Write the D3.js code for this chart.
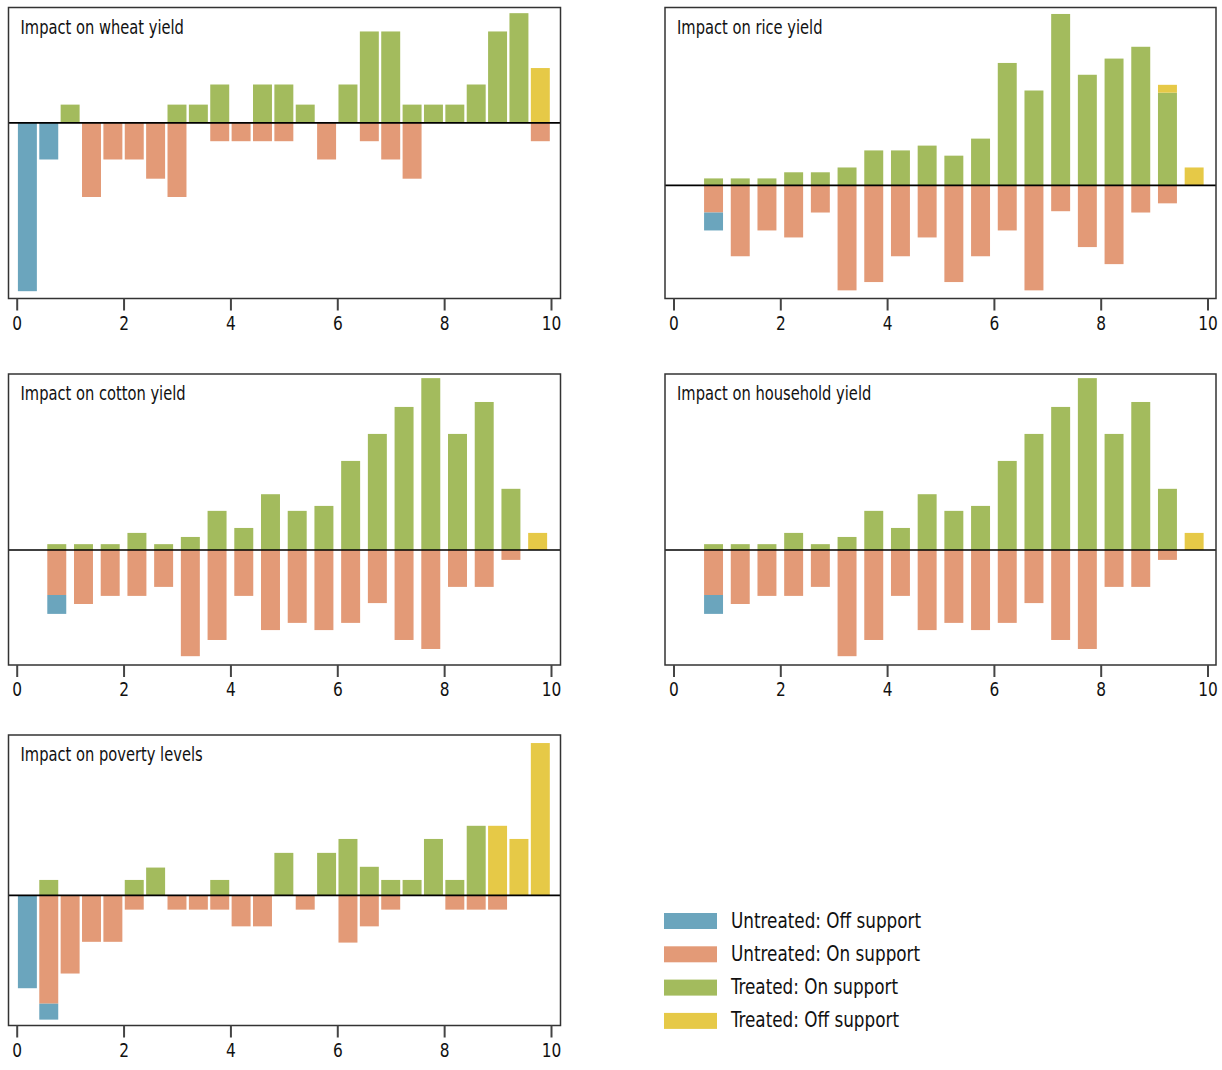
<!DOCTYPE html>
<html>
<head>
<meta charset="utf-8">
<script src="https://cdn.jsdelivr.net/npm/d3@7"></script>
<style>
  body { margin: 0; background: #fff; }
  text { font-family: "Liberation Sans Narrow", "DejaVu Sans Condensed", "Arial Narrow", sans-serif; fill: #111; }
</style>
</head>
<body>
<div id="chart"></div>
<script>
const width = 1222;
const height = 1070;

// bin centres (propensity score x 10)
const binsFine = [0.2, 0.6, 1.0, 1.4, 1.8, 2.2, 2.6, 3.0, 3.4, 3.8, 4.2, 4.6, 5.0, 5.4, 5.8, 6.2, 6.6, 7.0, 7.4, 7.8, 8.2, 8.6, 9.0, 9.4, 9.8];
const binsWide = [0.75, 1.25, 1.75, 2.25, 2.75, 3.25, 3.75, 4.25, 4.75, 5.25, 5.75, 6.25, 6.75, 7.25, 7.75, 8.25, 8.75, 9.25, 9.75];
const xTicks = [0, 2, 4, 6, 8, 10];

// wheat
const wheatTreatedOn = [0, 0, 1, 0, 0, 0, 0, 1, 1, 2.1, 0, 2.1, 2.1, 1, 0, 2.1, 5, 5, 1, 1, 1, 2.1, 5, 6, 0];
const wheatTreatedOff = [0, 0, 0, 0, 0, 0, 0, 0, 0, 0, 0, 0, 0, 0, 0, 0, 0, 0, 0, 0, 0, 0, 0, 0, 3];
const wheatUntreatedOn = [0, 0, 0, 4.05, 2, 2, 3.05, 4.05, 0, 1, 1, 1, 1, 0, 2, 0, 1, 2, 3.05, 0, 0, 0, 0, 0, 1];
const wheatUntreatedOff = [9.2, 2, 0, 0, 0, 0, 0, 0, 0, 0, 0, 0, 0, 0, 0, 0, 0, 0, 0, 0, 0, 0, 0, 0, 0];

// rice
const riceTreatedOn = [0.8, 0.8, 0.8, 1.5, 1.5, 2.05, 4.0, 4.0, 4.55, 3.4, 5.35, 14.0, 10.85, 19.6, 12.65, 14.5, 15.85, 10.6, 0];
const riceTreatedOff = [0, 0, 0, 0, 0, 0, 0, 0, 0, 0, 0, 0, 0, 0, 0, 0, 0, 0.9, 2.05];
const riceUntreatedOn = [3.1, 8.1, 5.15, 5.95, 3.1, 12.0, 11.05, 8.1, 5.95, 11.05, 8.1, 5.15, 12.0, 2.95, 7.05, 9.0, 3.1, 2.05, 0];
const riceUntreatedOff = [2.05, 0, 0, 0, 0, 0, 0, 0, 0, 0, 0, 0, 0, 0, 0, 0, 0, 0, 0];

// cotton
const cottonTreatedOn = [0.65, 0.65, 0.65, 1.9, 0.65, 1.45, 4.35, 2.45, 6.2, 4.35, 4.9, 9.9, 12.9, 15.9, 19.1, 12.9, 16.45, 6.8, 0];
const cottonTreatedOff = [0, 0, 0, 0, 0, 0, 0, 0, 0, 0, 0, 0, 0, 0, 0, 0, 0, 0, 1.9];
const cottonUntreatedOn = [5.0, 6.0, 5.1, 5.1, 4.1, 11.8, 10.0, 5.1, 8.9, 8.1, 8.9, 8.1, 5.9, 10.0, 11.0, 4.1, 4.1, 1.1, 0];
const cottonUntreatedOff = [2.1, 0, 0, 0, 0, 0, 0, 0, 0, 0, 0, 0, 0, 0, 0, 0, 0, 0, 0];

// household
const householdTreatedOn = [0.65, 0.65, 0.65, 1.9, 0.65, 1.45, 4.35, 2.45, 6.2, 4.35, 4.9, 9.9, 12.9, 15.9, 19.1, 12.9, 16.45, 6.8, 0];
const householdTreatedOff = [0, 0, 0, 0, 0, 0, 0, 0, 0, 0, 0, 0, 0, 0, 0, 0, 0, 0, 1.9];
const householdUntreatedOn = [5.0, 6.0, 5.1, 5.1, 4.1, 11.8, 10.0, 5.1, 8.9, 8.1, 8.9, 8.1, 5.9, 10.0, 11.0, 4.1, 4.1, 1.1, 0];
const householdUntreatedOff = [2.1, 0, 0, 0, 0, 0, 0, 0, 0, 0, 0, 0, 0, 0, 0, 0, 0, 0, 0];

// poverty
const povertyTreatedOn = [0, 1.0, 0, 0, 0, 1.0, 1.8, 0, 0, 1.0, 0, 0, 2.75, 0, 2.75, 3.65, 1.85, 1.0, 1.0, 3.65, 1.0, 4.5, 0, 0, 0];
const povertyTreatedOff = [0, 0, 0, 0, 0, 0, 0, 0, 0, 0, 0, 0, 0, 0, 0, 0, 0, 0, 0, 0, 0, 0, 4.5, 3.65, 9.85];
const povertyUntreatedOn = [0, 7.0, 5.05, 3.0, 3.0, 0.92, 0, 0.92, 0.92, 0.92, 2.0, 2.0, 0, 0.92, 0, 3.05, 2.0, 0.92, 0, 0, 0.92, 0.92, 0.92, 0, 0];
const povertyUntreatedOff = [6.0, 1.03, 0, 0, 0, 0, 0, 0, 0, 0, 0, 0, 0, 0, 0, 0, 0, 0, 0, 0, 0, 0, 0, 0, 0];

// y extents of each frame
const wheatYDomain = [-9.6, 6.31];
const riceYDomain = [-12.93, 20.34];
const cottonYDomain = [-12.78, 19.56];
const householdYDomain = [-12.78, 19.56];
const povertyYDomain = [-8.41, 10.37];

const legendLabels = ['Untreated: Off support', 'Untreated: On support', 'Treated: On support', 'Treated: Off support'];
const colors = {
    untreatedOff: '#6ba5bd',
    untreatedOn: '#e39a77',
    treatedOn: '#a3bb5d',
    treatedOff: '#e6c947'
};
const legendColors = [colors.untreatedOff, colors.untreatedOn, colors.treatedOn, colors.treatedOff];

const panels = [
    { title: 'Impact on wheat yield', bins: binsFine, tOn: wheatTreatedOn, tOff: wheatTreatedOff, uOn: wheatUntreatedOn, uOff: wheatUntreatedOff, yDomain: wheatYDomain, col: 0, row: 0 },
    { title: 'Impact on rice yield', bins: binsWide, tOn: riceTreatedOn, tOff: riceTreatedOff, uOn: riceUntreatedOn, uOff: riceUntreatedOff, yDomain: riceYDomain, col: 1, row: 0 },
    { title: 'Impact on cotton yield', bins: binsWide, tOn: cottonTreatedOn, tOff: cottonTreatedOff, uOn: cottonUntreatedOn, uOff: cottonUntreatedOff, yDomain: cottonYDomain, col: 0, row: 1 },
    { title: 'Impact on household yield', bins: binsWide, tOn: householdTreatedOn, tOff: householdTreatedOff, uOn: householdUntreatedOn, uOff: householdUntreatedOff, yDomain: householdYDomain, col: 1, row: 1 },
    { title: 'Impact on poverty levels', bins: binsFine, tOn: povertyTreatedOn, tOff: povertyTreatedOff, uOn: povertyUntreatedOn, uOff: povertyUntreatedOff, yDomain: povertyYDomain, col: 0, row: 2 }
];

// layout
const colFrames = [{ left: 8.5, right: 560.5, x0: 16.7, x10: 551 }, { left: 665, right: 1216, x0: 673.5, x10: 1207.5 }];
const rowFrames = [{ top: 7.5, bottom: 298.5 }, { top: 374, bottom: 665 }, { top: 735, bottom: 1025.5 }];
const barWidth = 0.355;
const squeeze = 0.86; // condensed look for labels

const svg = d3.select('#chart')
    .append('svg')
    .attr('width', width)
    .attr('height', height);

panels.forEach((p) => {
    const c = colFrames[p.col];
    const r = rowFrames[p.row];

    const x = d3.scaleLinear().domain([0, 10]).range([c.x0, c.x10]);
    const y = d3.scaleLinear().domain(p.yDomain).range([r.bottom, r.top]);
    const bw = x(barWidth) - x(0);

    const g = svg.append('g').attr('class', 'panel');

    const rows = p.bins.map((b, i) => ({
        b: b, tOn: p.tOn[i], tOff: p.tOff[i], uOn: p.uOn[i], uOff: p.uOff[i]
    }));

    const segs = [];
    rows.forEach((d) => {
        if (d.tOn > 0) segs.push({ b: d.b, y0: 0, y1: d.tOn, fill: colors.treatedOn });
        if (d.tOff > 0) segs.push({ b: d.b, y0: d.tOn, y1: d.tOn + d.tOff, fill: colors.treatedOff });
        if (d.uOn > 0) segs.push({ b: d.b, y0: -d.uOn, y1: 0, fill: colors.untreatedOn });
        if (d.uOff > 0) segs.push({ b: d.b, y0: -d.uOn - d.uOff, y1: -d.uOn, fill: colors.untreatedOff });
    });

    g.selectAll('rect.bar')
        .data(segs)
        .enter()
        .append('rect')
        .attr('class', 'bar')
        .attr('x', d => x(d.b) - bw / 2)
        .attr('width', bw)
        .attr('y', d => y(d.y1))
        .attr('height', d => y(d.y0) - y(d.y1))
        .attr('fill', d => d.fill);

    // zero line
    g.append('line')
        .attr('x1', c.left)
        .attr('x2', c.right)
        .attr('y1', y(0))
        .attr('y2', y(0))
        .attr('stroke', '#000')
        .attr('stroke-width', 1.6);

    // frame
    g.append('rect')
        .attr('x', c.left)
        .attr('y', r.top)
        .attr('width', c.right - c.left)
        .attr('height', r.bottom - r.top)
        .attr('fill', 'none')
        .attr('stroke', '#333')
        .attr('stroke-width', 1.5);

    g.append('text')
        .attr('transform', `translate(${c.left + 12},${r.top + 26}) scale(${squeeze},1)`)
        .attr('font-size', 19)
        .text(p.title);

    // x axis
    const axis = g.append('g')
        .attr('transform', `translate(0,${r.bottom})`)
        .call(d3.axisBottom(x).tickValues(xTicks).tickSize(12).tickFormat(d3.format('d')));
    axis.attr('font-family', null).attr('font-size', null);
    axis.select('.domain').remove();
    axis.selectAll('.tick line').attr('stroke', '#444').attr('stroke-width', 2);
    axis.selectAll('.tick text')
        .attr('y', 0)
        .attr('dy', 0)
        .attr('transform', `translate(0,31) scale(0.9,1)`)
        .attr('font-size', 19)
        .attr('fill', '#111');
});

// legend
const legend = svg.append('g')
    .attr('id', 'legend')
    .selectAll('g')
    .data(legendLabels)
    .enter()
    .append('g');

legend.append('rect')
    .attr('x', 664)
    .attr('y', (d, i) => 913 + i * 33.3)
    .attr('width', 53)
    .attr('height', 16)
    .attr('fill', (d, i) => legendColors[i]);

legend.append('text')
    .attr('transform', (d, i) => `translate(731,${927.5 + i * 33.3}) scale(0.85,1)`)
    .attr('font-size', 22)
    .text(d => d);
</script>
</body>
</html>
